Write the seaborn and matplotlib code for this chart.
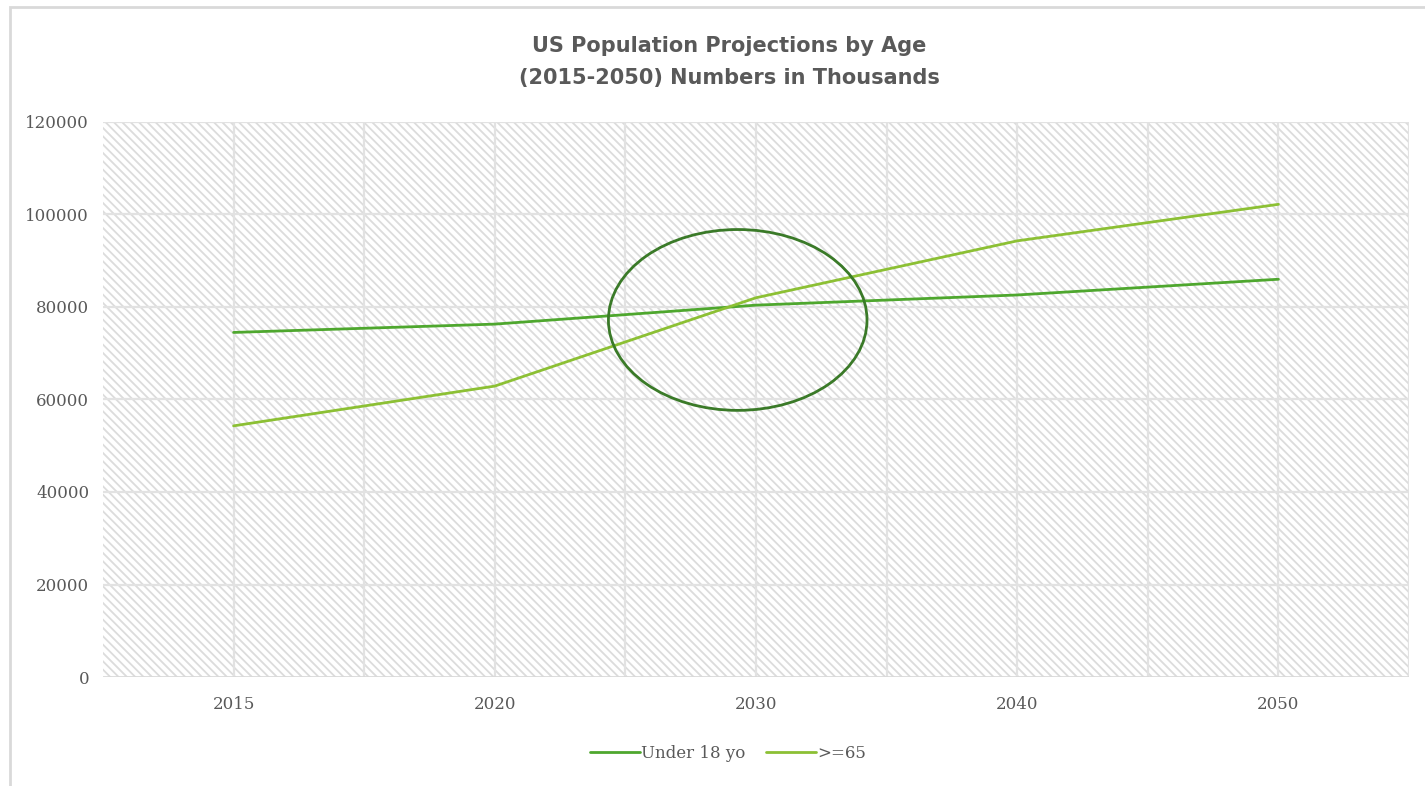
import matplotlib
matplotlib.use("Agg")
import matplotlib.pyplot as plt
from matplotlib.patches import Ellipse, Rectangle
from matplotlib.lines import Line2D
import seaborn as sns
import pandas as pd

years = ["2015", "2020", "2030", "2040", "2050"]
under18 = [74500, 76300, 80400, 82600, 86000]
over65 = [54300, 62900, 82000, 94300, 102200]
series_names = ["Under 18 yo", ">=65"]
colors = ["#4ea72e", "#8cc034"]
yticks = [0, 20000, 40000, 60000, 80000, 100000, 120000]

sns.set_theme(style="white")
plt.rcParams["font.family"] = ["DejaVu Serif"]
plt.rcParams["hatch.linewidth"] = 1.3

df = pd.DataFrame({
    "Year": years * 2,
    "Value": under18 + over65,
    "Series": [series_names[0]] * len(years) + [series_names[1]] * len(years),
})

fig = plt.figure(figsize=(14.25, 7.86), dpi=100)
ax = fig.add_axes([103 / 1425, 1 - 677 / 786, (1409 - 103) / 1425, (677 - 122) / 786])

# hatched plot area
ax.patch.set_facecolor("white")
bg = Rectangle((0, 0), 1, 1, transform=ax.transAxes, facecolor="white",
               edgecolor="#dcdcdc", hatch="\\" * 4, linewidth=0, zorder=0)
ax.add_patch(bg)

sns.lineplot(data=df, x="Year", y="Value", hue="Series", palette=colors,
             linewidth=2.0, ax=ax, legend=False, zorder=3)

ax.set_xlim(-0.5, len(years) - 0.5)
ax.set_ylim(0, 120000)
ax.set_yticks(yticks)
ax.set_yticklabels([str(v) for v in yticks])

# gridlines
for v in yticks[1:]:
    ax.axhline(v, color="#e2e2e2", linewidth=1.6, zorder=1)
for i in range(len(years) * 2):
    ax.axvline(i * 0.5, color="#e2e2e2", linewidth=1.6, zorder=1)
ax.axhline(0, color="#d9d9d9", linewidth=2.0, zorder=2)

for s in ax.spines.values():
    s.set_visible(False)

ax.tick_params(axis="both", length=0, labelsize=12, colors="#595959")
ax.tick_params(axis="y", pad=10)
ax.tick_params(axis="x", pad=14)
ax.set_xlabel("")
ax.set_ylabel("")

# highlight ellipse
ell = Ellipse((1.93, 77200), width=0.99, height=39100, fill=False,
              edgecolor="#3a7a28", linewidth=2.0, zorder=4)
ax.add_patch(ell)

# title
fig.text(729 / 1425, 1 - 62 / 786,
         "US Population Projections by Age\n(2015-2050) Numbers in Thousands",
         ha="center", va="center", fontsize=15, fontweight="bold",
         color="#595959", family=["DejaVu Sans"], linespacing=1.75)

# legend
handles = [Line2D([0], [0], color=c, linewidth=2.0) for c in colors]
fig.legend(handles, series_names, loc="center", bbox_to_anchor=(728 / 1425, 1 - 753 / 786),
           ncol=2, frameon=False, fontsize=12, handlelength=3.0, handletextpad=0.1,
           columnspacing=1.2, labelcolor="#595959")

# outer chart border
fig.patches.append(Rectangle((10 / 1425, -0.05), 1.1, 1 - 7 / 786 + 0.05,
                             transform=fig.transFigure, fill=False,
                             edgecolor="#d9d9d9", linewidth=2.0))

fig.savefig("out.png", dpi=100)
